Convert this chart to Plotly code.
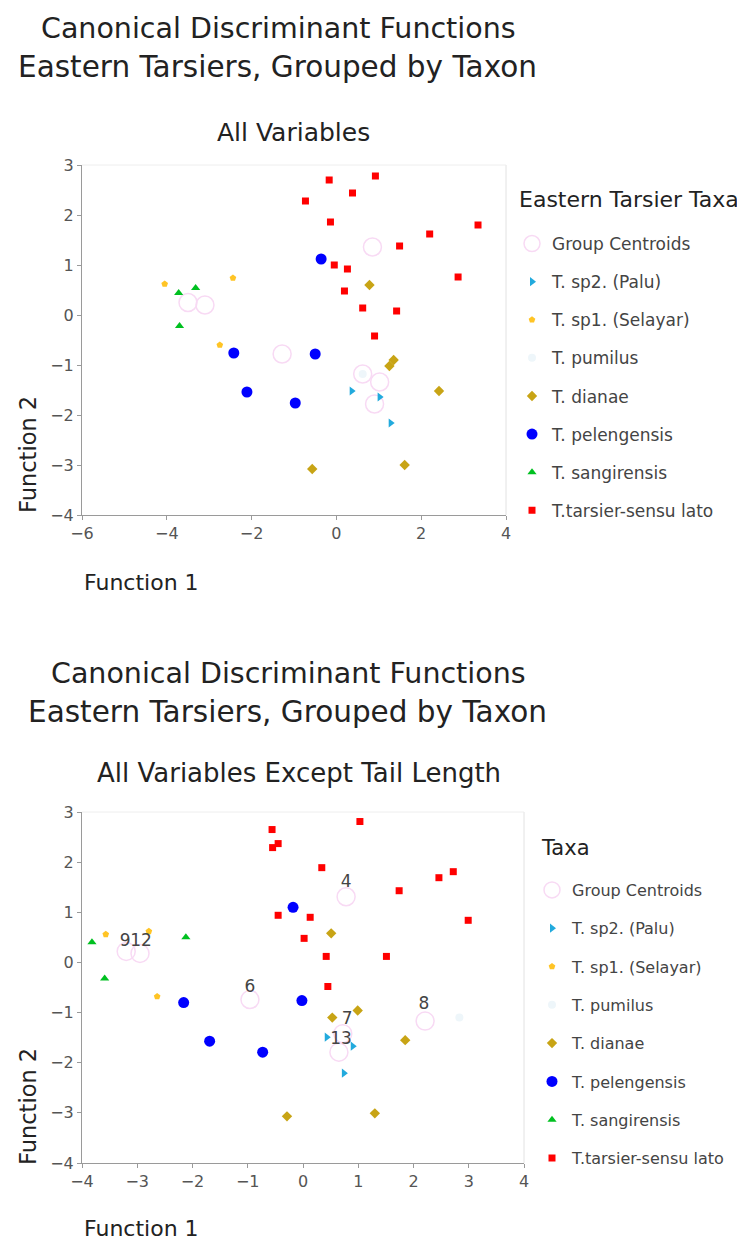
import plotly.graph_objects as go

# ---------------- Top chart: All Variables ----------------
top_centroid_x = [-3.5, -3.1, -1.28, 0.85, 1.02, 0.9, 0.62]
top_centroid_y = [0.25, 0.2, -0.78, 1.36, -1.34, -1.78, -1.18]
top_sp2_x = [0.36, 1.02, 1.28]
top_sp2_y = [-1.52, -1.64, -2.16]
top_sp1_x = [-4.05, -2.44, -2.75]
top_sp1_y = [0.62, 0.74, -0.60]
top_pumilus_x = [0.62]
top_pumilus_y = [-1.18]
top_dianae_x = [0.78, 1.25, 1.35, 2.42, -0.57, 1.61]
top_dianae_y = [0.60, -1.02, -0.90, -1.52, -3.08, -3.00]
top_pel_x = [-0.36, -0.50, -2.42, -2.11, -0.97]
top_pel_y = [1.12, -0.78, -0.76, -1.54, -1.76]
top_sang_x = [-3.72, -3.32, -3.70]
top_sang_y = [0.44, 0.54, -0.22]
top_tars_x = [-0.17, 0.92, 0.38, -0.73, -0.14, 3.34, 2.20, 1.49, 2.87, -0.05, 0.26, 0.19, 0.62, 1.42, 0.90]
top_tars_y = [2.70, 2.78, 2.44, 2.28, 1.86, 1.80, 1.62, 1.38, 0.76, 1.00, 0.92, 0.48, 0.14, 0.08, -0.42]

# ---------------- Bottom chart: All Variables Except Tail Length ----------------
bot_centroid_x = [-3.2, -2.95, -0.96, 0.78, 2.21, 0.72, 0.65]
bot_centroid_y = [0.22, 0.18, -0.74, 1.31, -1.17, -1.42, -1.79]
bot_label_x = [-3.22, -2.93, -0.96, 0.80, 0.69, 2.19, 0.78]
bot_label_y = [0.42, 0.42, -0.50, -1.15, -1.55, -0.84, 1.59]
bot_label_text = ["9", "12", "6", "7", "13", "8", "4"]
bot_sp2_x = [0.43, 0.90, 0.74]
bot_sp2_y = [-1.49, -1.67, -2.21]
bot_sp1_x = [-3.57, -2.79, -2.64]
bot_sp1_y = [0.56, 0.62, -0.68]
bot_pumilus_x = [2.83]
bot_pumilus_y = [-1.10]
bot_dianae_x = [0.51, 0.53, 0.99, 1.85, -0.29, 1.30]
bot_dianae_y = [0.58, -1.10, -0.96, -1.55, -3.07, -3.01]
bot_pel_x = [-0.18, -2.16, -0.02, -1.69, -0.73]
bot_pel_y = [1.10, -0.80, -0.76, -1.57, -1.79]
bot_sang_x = [-3.82, -2.12, -3.59]
bot_sang_y = [0.40, 0.50, -0.32]
bot_tars_x = [-0.56, -0.55, -0.45, -0.45, 1.03, 0.34, 2.46, 2.72, 1.74, 2.99, 0.13, 0.02, 0.42, 1.51, 0.45]
bot_tars_y = [2.65, 2.29, 2.37, 0.94, 2.81, 1.89, 1.69, 1.81, 1.43, 0.84, 0.90, 0.48, 0.12, 0.12, -0.48]

FONT = "DejaVu Sans"
styles = {
    "Group Centroids": dict(symbol="circle-open", size=18, color="#F8DAF4", line=dict(width=1.5, color="#F8DAF4")),
    "T. sp2. (Palu)": dict(symbol="triangle-right", size=8, color="#22AADD"),
    "T. sp1. (Selayar)": dict(symbol="pentagon", size=7, color="#FFC425"),
    "T. pumilus": dict(symbol="circle", size=8, color="#EEF6FA"),
    "T. dianae": dict(symbol="diamond", size=8, color="#C8A415"),
    "T. pelengensis": dict(symbol="circle", size=11, color="#0000FF"),
    "T. sangirensis": dict(symbol="triangle-up", size=8, color="#00C020"),
    "T.tarsier-sensu lato": dict(symbol="square", size=7, color="#FF0000"),
}

fig = go.Figure()

def add_set(xs_ys, xa, ya, legend):
    for i, (name, (xs, ys)) in enumerate(xs_ys.items()):
        fig.add_trace(go.Scatter(
            x=xs, y=ys, mode="markers", name=name, marker=styles[name],
            xaxis=xa, yaxis=ya, legend=legend, legendgroup=legend + str(i),
        ))

add_set({
    "Group Centroids": (top_centroid_x, top_centroid_y),
    "T. sp2. (Palu)": (top_sp2_x, top_sp2_y),
    "T. sp1. (Selayar)": (top_sp1_x, top_sp1_y),
    "T. pumilus": (top_pumilus_x, top_pumilus_y),
    "T. dianae": (top_dianae_x, top_dianae_y),
    "T. pelengensis": (top_pel_x, top_pel_y),
    "T. sangirensis": (top_sang_x, top_sang_y),
    "T.tarsier-sensu lato": (top_tars_x, top_tars_y),
}, "x", "y", "legend")

add_set({
    "Group Centroids": (bot_centroid_x, bot_centroid_y),
    "T. sp2. (Palu)": (bot_sp2_x, bot_sp2_y),
    "T. sp1. (Selayar)": (bot_sp1_x, bot_sp1_y),
    "T. pumilus": (bot_pumilus_x, bot_pumilus_y),
    "T. dianae": (bot_dianae_x, bot_dianae_y),
    "T. pelengensis": (bot_pel_x, bot_pel_y),
    "T. sangirensis": (bot_sang_x, bot_sang_y),
    "T.tarsier-sensu lato": (bot_tars_x, bot_tars_y),
}, "x2", "y2", "legend2")

fig.add_trace(go.Scatter(
    x=bot_label_x, y=bot_label_y, text=bot_label_text, mode="text",
    textfont=dict(family=FONT, size=17, color="#444"), showlegend=False,
    xaxis="x2", yaxis="y2", hoverinfo="skip",
))

# page body has an 8px margin, so the figure is drawn from (8, 8)
OFF = 8
W, H = 745 - OFF, 1243 - OFF
def px(x):
    return (x - OFF) / W
def py(y):
    return 1 - (y - OFF) / H

axis_common = dict(
    showgrid=False, zeroline=False, showline=True, linecolor="#9a9a9a", linewidth=1,
    mirror=False, ticks="outside", ticklen=4, tickcolor="#9a9a9a", automargin=False,
    tickfont=dict(family=FONT, size=16, color="#555"), fixedrange=True,
)

fig.update_layout(
    width=W, height=H, margin=dict(l=0, r=0, t=0, b=0, autoexpand=False),
    paper_bgcolor="white", plot_bgcolor="white",
    font=dict(family=FONT, color="#333"),
    xaxis=dict(domain=[px(82), px(506)], range=[-6, 4], dtick=2, anchor="y", **axis_common),
    yaxis=dict(domain=[py(515), py(165)], range=[-4, 3], dtick=1, anchor="x", **axis_common),
    xaxis2=dict(domain=[px(82), px(524)], range=[-4, 4], dtick=1, anchor="y2", **axis_common),
    yaxis2=dict(domain=[py(1163), py(812)], range=[-4, 3], dtick=1, anchor="x2", **axis_common),
    legend=dict(
        x=px(512), y=py(226), xanchor="left", yanchor="top",
        font=dict(family=FONT, size=17, color="#444"), tracegroupgap=13,
        bgcolor="rgba(0,0,0,0)", itemclick=False,
    ),
    legend2=dict(
        x=px(532), y=py(873), xanchor="left", yanchor="top",
        font=dict(family=FONT, size=16, color="#444"), tracegroupgap=14.5,
        bgcolor="rgba(0,0,0,0)", itemclick=False,
    ),
    showlegend=True,
)

# light frame on top/right of plot areas
for (x0, x1, y0, y1) in [(82, 506, 165, 515), (82, 524, 812, 1163)]:
    fig.add_shape(type="line", xref="paper", yref="paper", x0=px(x1), x1=px(x1), y0=py(y1), y1=py(y0),
                  line=dict(color="#e2e2e2", width=1))
    fig.add_shape(type="line", xref="paper", yref="paper", x0=px(x0), x1=px(x1), y0=py(y0), y1=py(y0),
                  line=dict(color="#eeeeee", width=1))

def ann(text, x, y, size, angle=0, xanchor="center", color="#222"):
    fig.add_annotation(text=text, x=px(x), y=py(y), xref="paper", yref="paper",
                       showarrow=False, xanchor=xanchor, yanchor="middle", textangle=angle,
                       font=dict(family=FONT, size=size, color=color))

ann("Canonical Discriminant Functions", 278, 28, 28.5)
ann("Eastern Tarsiers, Grouped by Taxon", 277, 67, 29.5)
ann("All Variables", 293, 133, 25)
ann("Function 2", 28, 455, 22.5, angle=-90)
ann("Function 1", 82, 582, 22, xanchor="left")
ann("Eastern Tarsier Taxa", 517, 200, 22, xanchor="left")

ann("Canonical Discriminant Functions", 288, 673, 28.5)
ann("Eastern Tarsiers, Grouped by Taxon", 287, 712, 29.5)
ann("All Variables Except Tail Length", 299, 773, 26)
ann("Function 2", 28, 1107, 22.5, angle=-90)
ann("Function 1", 82, 1228, 22, xanchor="left")
ann("Taxa", 539, 848, 21, xanchor="left")

fig.write_html("out.html")
